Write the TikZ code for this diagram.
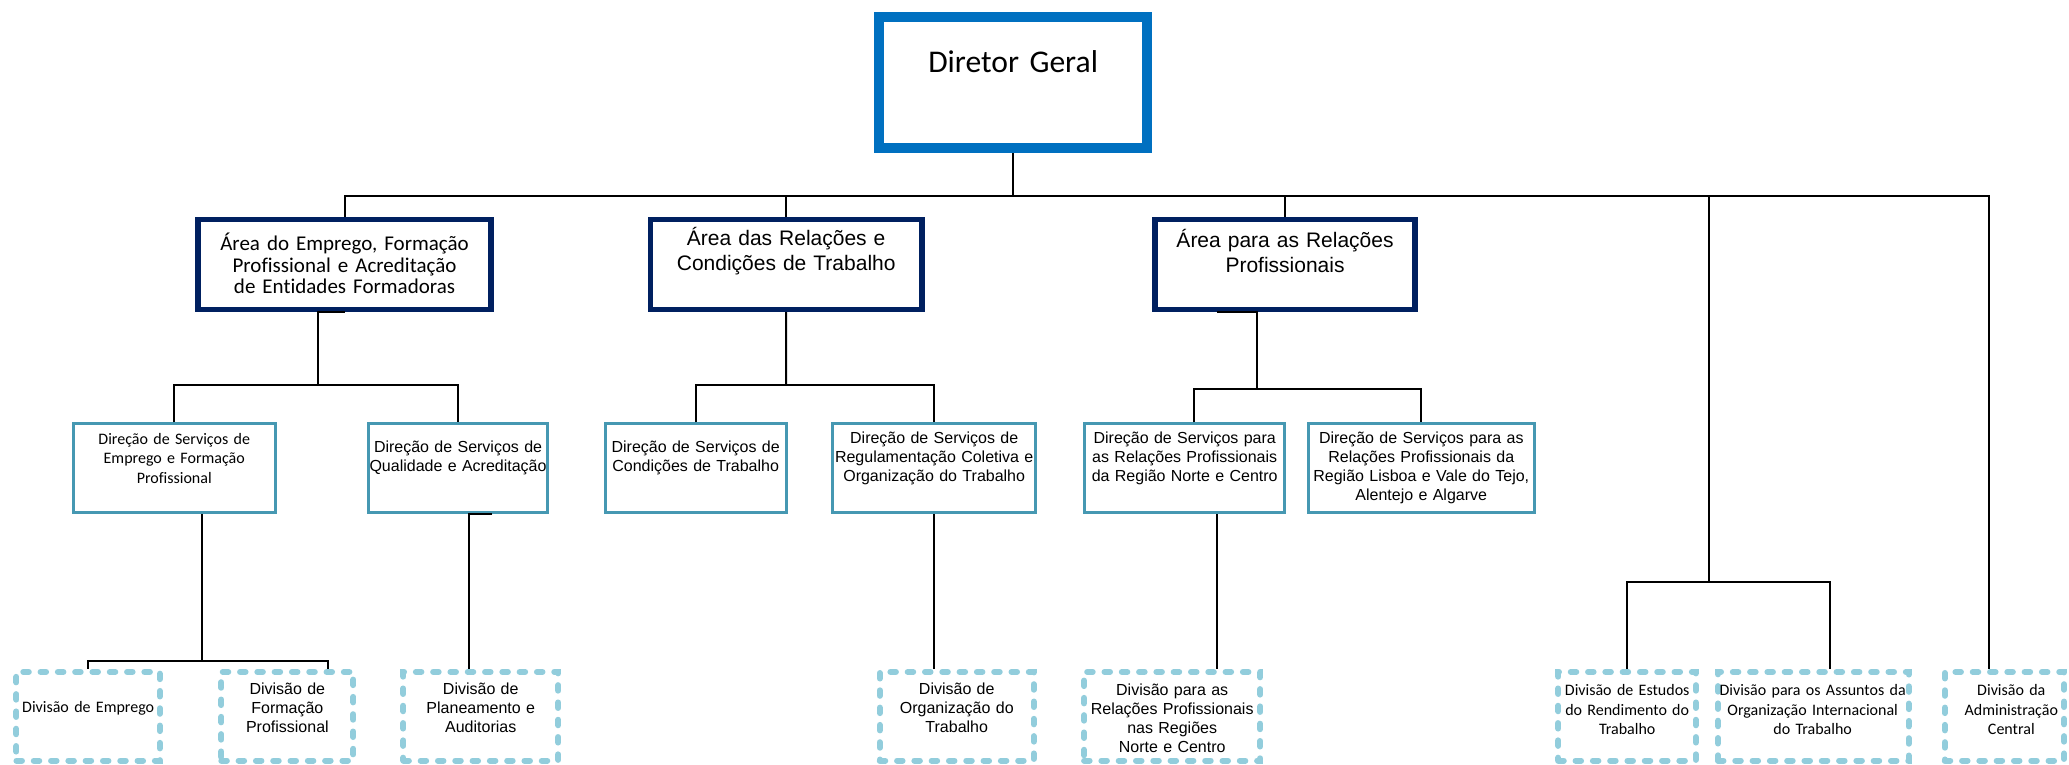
\documentclass[tikz,border=0pt]{standalone}
\usepackage{fontspec}
\setmainfont{Liberation Sans}
\newfontfamily\arial{Liberation Sans}
\newfontfamily\calibri[Ligatures=NoCommon]{Carlito}
\usetikzlibrary{fit}
\definecolor{dgcolor}{RGB}{0, 112, 192}
\definecolor{areacolor}{RGB}{0, 32, 96}
\definecolor{dscolor}{RGB}{70, 152, 178}
\definecolor{divcolor}{RGB}{146, 205, 220}

\begin{document}
\begin{tikzpicture}[x=1.32pt, y=-1.32pt,
    dgbox/.style={draw = dgcolor, line width=10pt, fill=white, inner sep=-5pt},
    areabox/.style={draw = areacolor, line width=5.3pt, fill=white, inner sep=-2.65pt},
    dsbox/.style={draw = dscolor, line width=3pt, fill=white, inner sep=-1.5pt},
    divbox/.style={draw = divcolor, line width=6pt, dash pattern=on 5.5pt off 11.8pt, line cap=round, fill=white, inner sep=-3pt},
    boxtext/.style={align=center, text width=320pt, inner sep=0pt, text=black},
    conn/.style={draw, line width=2pt, black}
    ]

    \useasboundingbox (0, 0) rectangle (1567.4, 578.8);

    % name/style/x1/y1/x2/y2
    \newcommand{\boxlist}{
        dg/dgbox/662/9/873/116.2,
        ae/areabox/148/164.5/374/236.5,
        ar/areabox/490.8/164.5/700.4/236.5,
        ap/areabox/873/164.5/1074/236.5,
        dse/dsbox/54.3/320/209.6/389.7,
        dsq/dsbox/277.8/320/415.7/389.7,
        dsc/dsbox/457.4/320/596.7/389.7,
        dsr/dsbox/629.8/320/785.5/389.7,
        dsn/dsbox/820.7/320/974.2/389.7,
        dsl/dsbox/990.2/320/1163.4/389.7,
        dem/divbox/10.2/506.7/123.4/578.5,
        dfp/divbox/165.4/506.7/270/578.5,
        dpa/divbox/303.3/506.7/425.2/578.5,
        dot/divbox/664.2/506.7/785.4/578.5,
        drp/divbox/819/506.7/957/578.5,
        est/divbox/1178.2/506.7/1287/578.5,
        ass/divbox/1299.2/506.7/1448.2/578.5,
        adm/divbox/1471/506.7/1566/578.5
    }

    % name/x/y/font/size/skip/text
    \newcommand{\labellist}{
        dg/767.5/47/\calibri/31.6/38/{Diretor Geral},
        ae/261/199.5/\calibri/21/21.6/{Área do Emprego, Formação\\Profissional e Acreditação\\de Entidades Formadoras},
        ar/595.6/190/\arial/21/25/{Área das Relações e\\Condições de Trabalho},
        ap/973.5/190/\arial/21/25/{Área para as Relações\\Profissionais},
        dse/132/347.3/\calibri/16/19.3/{Direção de Serviços de\\Emprego e Formação\\Profissional},
        dsq/347/347/\arial/16/19/{Direção de Serviços de\\Qualidade e Acreditação},
        dsc/527/347/\arial/16/19/{Direção de Serviços de\\Condições de Trabalho},
        dsr/707.7/347.3/\arial/16/19/{Direção de Serviços de\\Regulamentação Coletiva e\\Organização do Trabalho},
        dsn/897.5/347.3/\arial/16/19/{Direção de Serviços para\\as Relações Profissionais\\da Região Norte e Centro},
        dsl/1076.7/354.5/\arial/16/19/{Direção de Serviços para as\\Relações Profissionais da\\Região Lisboa e Vale do Tejo,\\Alentejo e Algarve},
        dem/66.8/536.5/\calibri/16/19.3/{Divisão de Emprego},
        dfp/217.7/536.5/\arial/16/19/{Divisão de\\Formação\\Profissional},
        dpa/364.2/536.5/\arial/16/19/{Divisão de\\Planeamento e\\Auditorias},
        dot/724.8/536.4/\arial/16/19/{Divisão de\\Organização do\\Trabalho},
        drp/888/543.9/\arial/16/19/{Divisão para as\\Relações Profissionais\\nas Regiões\\Norte e Centro},
        est/1232.7/537.5/\calibri/16/19.3/{Divisão de Estudos\\do Rendimento do\\Trabalho},
        ass/1373.2/537.5/\calibri/16/19.3/{Divisão para os Assuntos da\\Organização Internacional\\do Trabalho},
        adm/1523.7/537.5/\calibri/16/19.3/{Divisão da\\Administração\\Central}
    }

    % Define boxes
    \foreach \n/\st/\xa/\ya/\xb/\yb in \boxlist {
        \node[\st, fit={(\xa, \ya) (\xb, \yb)}] (\n) {};
    }

    % Define texts
    \foreach \n/\tx/\ty/\ff/\fs/\fl/\txt in \labellist {
        \node[boxtext, font=\ff\fontsize{\fs}{\fl}\selectfont] (\n-t) at (\tx, \ty) {\txt};
    }

    % Define connectors
    \coordinate (b0) at (767.5, 148.5);
    \coordinate (b-ae) at (241, 291.7);
    \coordinate (b-ar) at (595.6, 291.7);
    \coordinate (b-ap) at (952, 294.8);
    \coordinate (s-ap) at (921.7, 0);
    \coordinate (t-dsn) at (904.7, 0);
    \coordinate (b-dse) at (153.3, 500.5);
    \coordinate (t-dfp) at (248.2, 0);
    \coordinate (s-dsq) at (373, 0);
    \coordinate (b-dsq) at (355.6, 0);
    \coordinate (b-dsn) at (922, 0);
    \coordinate (b-est) at (1294.4, 441.2);
    \coordinate (t-ass) at (1386, 0);
    \coordinate (t-adm) at (1506.5, 0);

    \draw[conn] (dg.south) -- (b0);
    \draw[conn] (ae.north) |- (b0) -| (adm.north -| t-adm);
    \draw[conn] (ar.north) -- (ar.north |- b0);
    \draw[conn] (ap.north) -- (ap.north |- b0);
    \draw[conn] (b-est |- b0) -- (b-est);
    \draw[conn] (est.north) |- (b-est) -| (ass.north -| t-ass);

    \draw[conn] (ae.south) -| (b-ae);
    \draw[conn] (dse.north) |- (b-ae) -| (dsq.north);
    \draw[conn] (ar.south) -- (b-ar);
    \draw[conn] (dsc.north) |- (b-ar) -| (dsr.north);
    \draw[conn] (ap.south -| s-ap) -| (b-ap);
    \draw[conn] (dsn.north -| t-dsn) |- (b-ap) -| (dsl.north);

    \draw[conn] (dse.south -| b-dse) -- (b-dse);
    \draw[conn] (dem.north) |- (b-dse) -| (dfp.north -| t-dfp);
    \draw[conn] (dsq.south -| s-dsq) -| (dpa.north -| b-dsq);
    \draw[conn] (dsr.south) -- (dsr.south |- dot.north);
    \draw[conn] (dsn.south -| b-dsn) -- (drp.north -| b-dsn);
\end{tikzpicture}
\end{document}
